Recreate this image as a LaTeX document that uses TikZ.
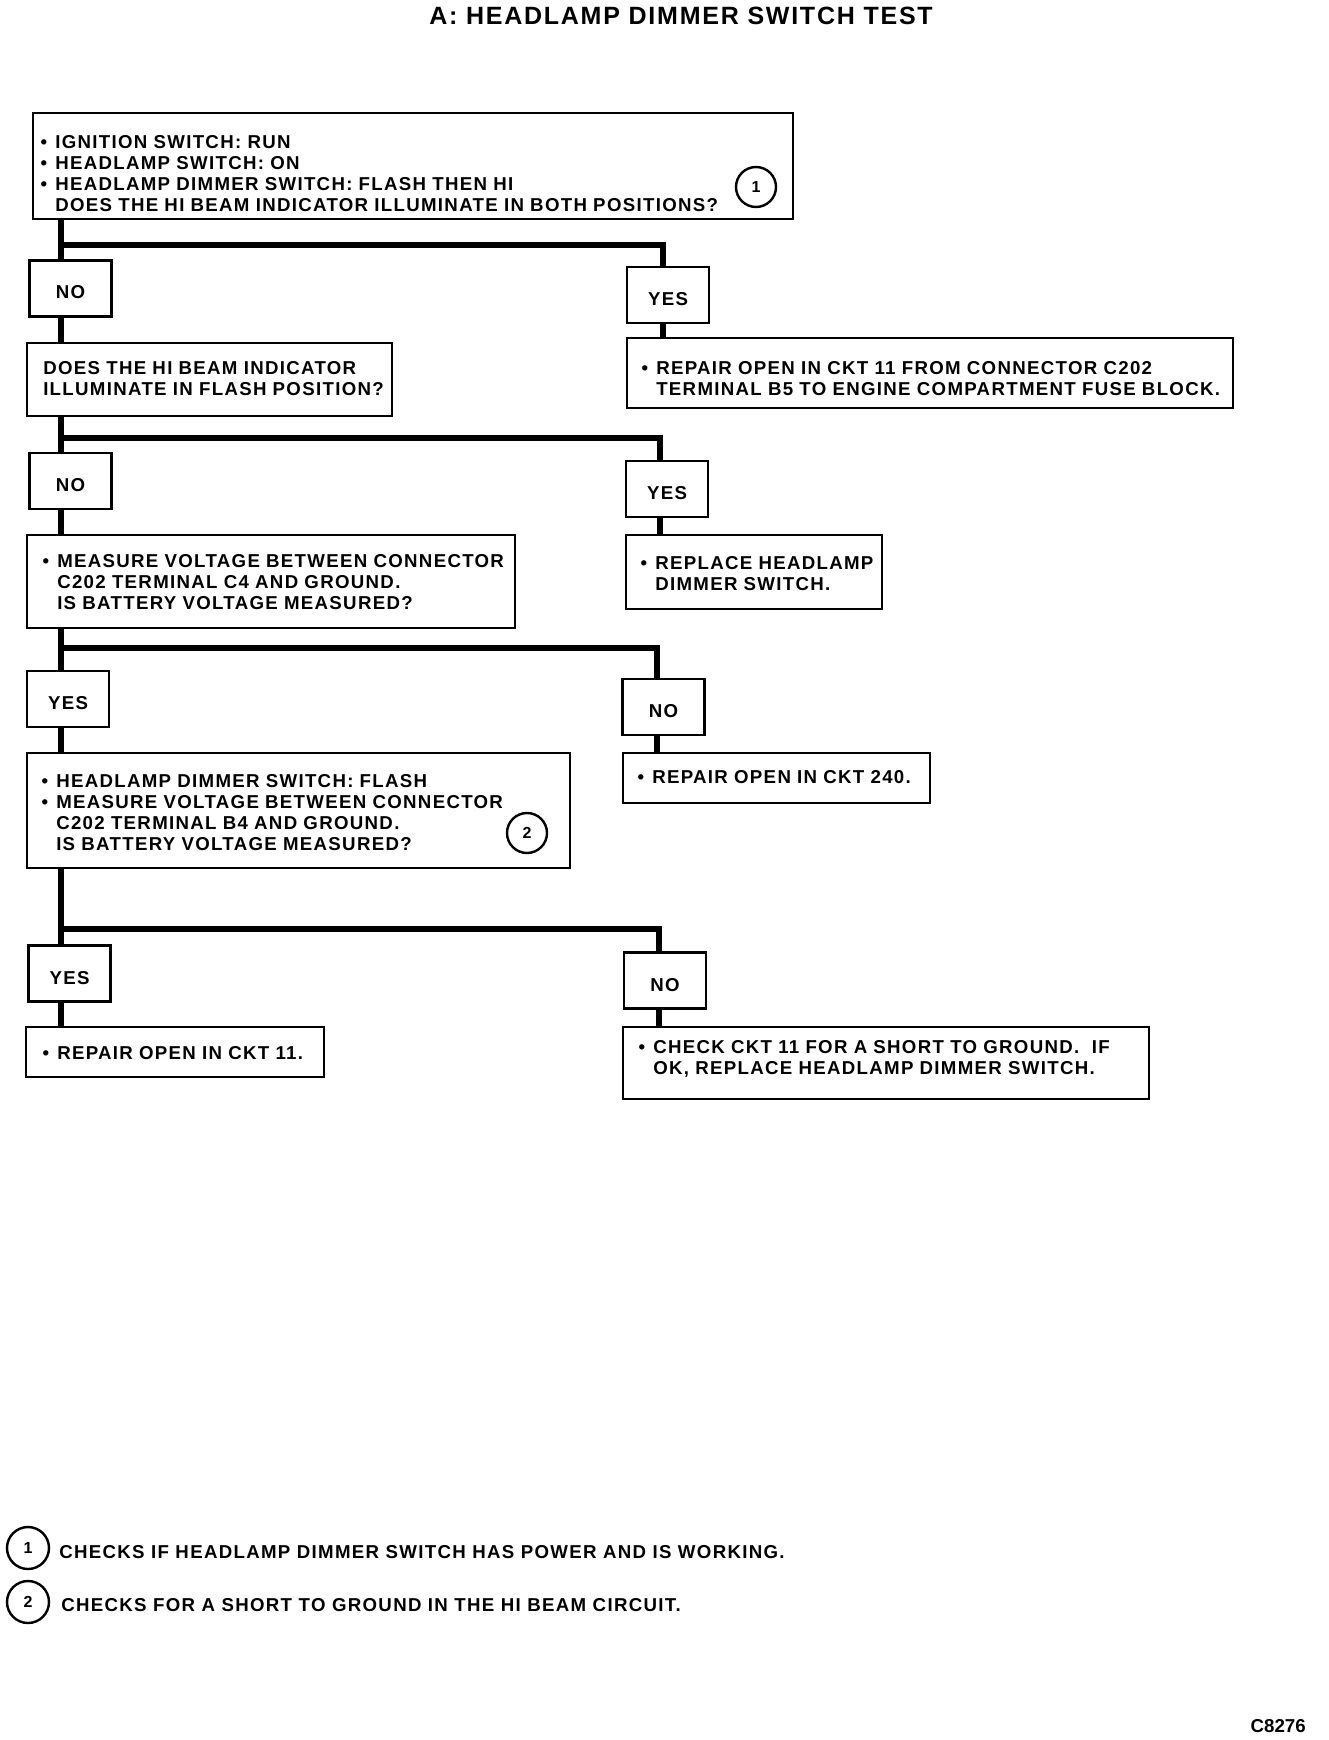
\documentclass[tikz,border=0pt]{standalone}
\usepackage{fontspec}
\setmainfont{Liberation Sans}
\newfontfamily\dfont{Liberation Sans}[LetterSpace=7]
\usetikzlibrary{fit}
\newcommand\bul{\leavevmode\llap{\textbullet\hspace{6pt}}}
\begin{document}
\begin{tikzpicture}[x=0.75pt,y=-0.75pt,
  box/.style={draw, line width=1.8pt, inner sep=0pt, rectangle},
  yn/.style={box, minimum width=61.5pt, minimum height=42pt, font=\dfont\bfseries\fontsize{14pt}{15.75pt}\selectfont, text height=15.75pt, text depth=0pt},
  txt/.style={font=\dfont\bfseries\fontsize{14pt}{15.75pt}\selectfont, align=left, inner sep=0pt, anchor=base west},
  conn/.style={line width=4.2pt, line join=miter},
  num/.style={circle, draw, line width=1.8pt, minimum size=30pt, inner sep=0pt, font=\bfseries\fontsize{12pt}{12pt}\selectfont}]
\useasboundingbox (0,0) rectangle (1328,1740);

\node[font=\dfont\bfseries\fontsize{18.75pt}{20pt}\selectfont, anchor=base, inner sep=0pt] (title) at (681,25) {A: HEADLAMP DIMMER SWITCH TEST};

% level 1
\node[box, fit={(33,113) (793,219)}] (q1) {};
\node[txt, text width=540pt] (q1t) at (55,148.5) {\bul IGNITION SWITCH: RUN\\ \bul HEADLAMP SWITCH: ON\\ \bul HEADLAMP DIMMER SWITCH: FLASH THEN HI\\ DOES THE HI BEAM INDICATOR ILLUMINATE IN BOTH POSITIONS?};
\node[num] (c1) at (756,187) {1};
\coordinate (j1) at (61,245);
\coordinate (k1) at (663,245);
\node[yn] (no1) at (70.5,288.5) {NO};
\node[yn] (yes1) at (668,295) {YES};
\node[box, fit={(627,338) (1233,408)}] (r1) {};
\node[txt, text width=450pt] (r1t) at (656,374.5) {\bul REPAIR OPEN IN CKT 11 FROM CONNECTOR C202\\TERMINAL B5 TO ENGINE COMPARTMENT FUSE BLOCK.};

% level 2
\node[box, fit={(27,343) (392,416)}] (q2) {};
\node[txt, text width=265pt] (q2t) at (43,374.5) {DOES THE HI BEAM INDICATOR\\ILLUMINATE IN FLASH POSITION?};
\coordinate (j2) at (61,438);
\coordinate (k2) at (660,438);
\node[yn] (no2) at (70.5,481) {NO};
\node[yn] (yes2) at (667,489) {YES};
\node[box, fit={(626,535) (882,609)}] (r2) {};
\node[txt, text width=185pt] (r2t) at (655,569.5) {\bul REPLACE HEADLAMP\\DIMMER SWITCH.};

% level 3
\node[box, fit={(27,535) (515,628)}] (q3) {};
\node[txt, text width=355pt] (q3t) at (57,567.5) {\bul MEASURE VOLTAGE BETWEEN CONNECTOR\\C202 TERMINAL C4 AND GROUND.\\IS BATTERY VOLTAGE MEASURED?};
\coordinate (j3) at (61,648);
\coordinate (k3) at (657,648);
\node[yn] (yes3) at (68,699) {YES};
\node[yn] (no3) at (663.5,707) {NO};
\node[box, fit={(623,753) (930,803)}] (r3) {};
\node[txt, text width=225pt] (r3t) at (652,783.5) {\bul REPAIR OPEN IN CKT 240.};

% level 4
\node[box, fit={(27,753) (570,868)}] (q4) {};
\node[txt, text width=355pt] (q4t) at (56,787.5) {\bul HEADLAMP DIMMER SWITCH: FLASH\\ \bul MEASURE VOLTAGE BETWEEN CONNECTOR\\C202 TERMINAL B4 AND GROUND.\\IS BATTERY VOLTAGE MEASURED?};
\node[num] (c2) at (527,833) {2};
\coordinate (j4) at (61,929);
\coordinate (k4) at (659,929);
\node[yn] (yes4) at (69.5,973.5) {YES};
\node[yn] (no4) at (665,980.5) {NO};
\node[box, fit={(26,1027) (324,1077)}] (r4) {};
\node[txt, text width=205pt] (r4t) at (57,1059.5) {\bul REPAIR OPEN IN CKT 11.};
\node[box, fit={(623,1027) (1149,1099)}] (r5) {};
\node[txt, text width=375pt] (r5t) at (653,1053.5) {\bul CHECK CKT 11 FOR A SHORT TO GROUND.\ \ IF\\OK, REPLACE HEADLAMP DIMMER SWITCH.};

% connectors
\draw[conn] (q1.south -| j1) -- (no1.north -| j1);
\draw[conn] (j1) -- (k1) -- (yes1.north -| k1);
\draw[conn] (yes1.south -| k1) -- (r1.north -| k1);
\draw[conn] (no1.south -| j1) -- (q2.north -| j1);

\draw[conn] (q2.south -| j2) -- (no2.north -| j2);
\draw[conn] (j2) -- (k2) -- (yes2.north -| k2);
\draw[conn] (yes2.south -| k2) -- (r2.north -| k2);
\draw[conn] (no2.south -| j2) -- (q3.north -| j2);

\draw[conn] (q3.south -| j3) -- (yes3.north -| j3);
\draw[conn] (j3) -- (k3) -- (no3.north -| k3);
\draw[conn] (no3.south -| k3) -- (r3.north -| k3);
\draw[conn] (yes3.south -| j3) -- (q4.north -| j3);

\draw[conn] (q4.south -| j4) -- (yes4.north -| j4);
\draw[conn] (j4) -- (k4) -- (no4.north -| k4);
\draw[conn] (no4.south -| k4) -- (r5.north -| k4);
\draw[conn] (yes4.south -| j4) -- (r4.north -| j4);

% footnotes
\node[num, minimum size=31.5pt] (f1) at (28,1548) {1};
\node[txt] (f1t) at (59,1558) {CHECKS IF HEADLAMP DIMMER SWITCH HAS POWER AND IS WORKING.};
\node[num, minimum size=31.5pt] (f2) at (28,1602) {2};
\node[txt] (f2t) at (61,1611) {CHECKS FOR A SHORT TO GROUND IN THE HI BEAM CIRCUIT.};
\node[font=\bfseries\fontsize{14pt}{14pt}\selectfont, anchor=base east, inner sep=0pt] (code) at (1306,1732) {C8276};
\end{tikzpicture}
\end{document}
